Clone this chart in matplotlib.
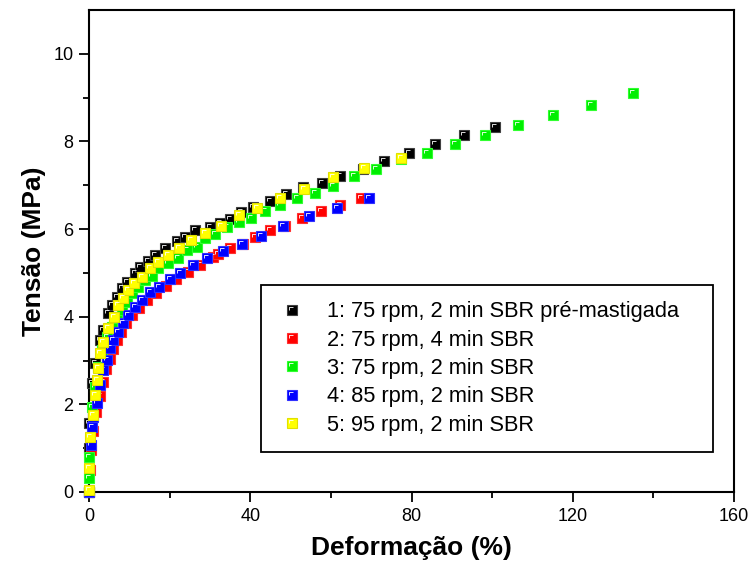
import matplotlib
matplotlib.use("Agg")
import matplotlib.pyplot as plt
from matplotlib.path import Path
from matplotlib.legend_handler import HandlerTuple

plt.rcParams["font.family"] = ["Liberation Sans", "DejaVu Sans"]

# --------------------
# data (strain %, stress MPa)
# --------------------

x1 = [0, 0.1, 0, 0.7, 1.5, 2.7, 3.5, 4.7, 5.7, 6.9, 8.2, 9.4, 11.4, 12.7, 14.6, 16.4,
      18.9, 21.8, 23.8, 26.3, 30.0, 32.5, 35.0, 37.7, 40.7, 44.9, 48.9, 53.1, 57.8,
      62.3, 68.0, 73.2, 79.4, 85.8, 93.0, 100.7]
y1 = [0, 1.0, 1.57, 2.48, 2.94, 3.46, 3.69, 4.08, 4.26, 4.44, 4.65, 4.79, 4.99, 5.13,
      5.28, 5.40, 5.56, 5.72, 5.83, 5.97, 6.04, 6.13, 6.24, 6.40, 6.51, 6.63, 6.81,
      6.95, 7.06, 7.22, 7.38, 7.56, 7.74, 7.93, 8.15, 8.34]

x2 = [0, 0.2, 0.5, 1.0, 1.8, 2.6, 3.4, 4.2, 5.1, 6.0, 6.9, 8.0, 9.2, 10.6, 12.3,
      14.3, 16.5, 19.0, 21.5, 24.5, 27.5, 30.8, 32.0, 35.0, 38.2, 41.2, 44.9, 48.6,
      52.8, 57.6, 62.3, 67.5]
y2 = [0, 0.5, 0.95, 1.40, 1.82, 2.20, 2.52, 2.80, 3.04, 3.27, 3.47, 3.66, 3.85, 4.03,
      4.20, 4.38, 4.54, 4.70, 4.85, 5.02, 5.17, 5.36, 5.44, 5.56, 5.67, 5.83, 5.97,
      6.08, 6.26, 6.42, 6.56, 6.70]

x3 = [0, 0, 0, 0.7, 1.5, 2.2, 3.2, 4.5, 5.7, 6.9, 8.2, 9.4, 10.7, 12.2, 13.9, 15.6,
      17.1, 19.6, 22.1, 24.3, 26.8, 28.8, 31.3, 34.2, 37.2, 40.2, 43.7, 47.4, 51.6,
      56.1, 60.5, 65.7, 71.2, 77.4, 83.8, 90.8, 98.2, 106.4, 115.1, 124.5, 135.0]
y3 = [0, 0.32, 0.80, 1.94, 2.39, 2.85, 3.23, 3.53, 3.76, 3.96, 4.15, 4.33, 4.53, 4.67,
      4.83, 4.94, 5.10, 5.22, 5.35, 5.53, 5.58, 5.79, 5.88, 6.04, 6.15, 6.26, 6.42,
      6.54, 6.70, 6.83, 6.99, 7.20, 7.36, 7.59, 7.74, 7.93, 8.15, 8.38, 8.61, 8.84,
      9.11]

x4 = [0, 0.5, 0.7, 1.0, 2.0, 2.7, 3.5, 4.5, 5.2, 6.0, 7.2, 8.4, 9.7, 11.4, 13.1,
      15.1, 17.4, 20.1, 22.6, 25.8, 29.3, 33.2, 38.0, 42.7, 48.1, 54.6, 61.5, 69.5]
y4 = [0, 1.07, 1.48, 1.71, 2.03, 2.44, 2.78, 3.01, 3.28, 3.46, 3.64, 3.85, 4.05, 4.21,
      4.37, 4.56, 4.67, 4.87, 4.99, 5.17, 5.33, 5.49, 5.65, 5.85, 6.06, 6.29, 6.49,
      6.70]

x5 = [0, 0, 0.2, 1.0, 1.5, 2.0, 2.2, 2.7, 3.5, 4.7, 6.2, 7.2, 8.4, 9.7, 11.2, 13.1,
      15.1, 17.1, 19.6, 22.3, 25.3, 28.8, 32.7, 37.2, 41.7, 47.4, 53.3, 60.5, 68.2,
      77.4]
y5 = [0.04, 0.55, 1.25, 1.75, 2.21, 2.55, 2.82, 3.17, 3.42, 3.74, 3.99, 4.26, 4.42,
      4.60, 4.76, 4.90, 5.10, 5.24, 5.40, 5.56, 5.74, 5.90, 6.08, 6.31, 6.49, 6.72,
      6.92, 7.18, 7.40, 7.63]

labels = ["1: 75 rpm, 2 min SBR pré-mastigada",
          "2: 75 rpm, 4 min SBR",
          "3: 75 rpm, 2 min SBR",
          "4: 85 rpm, 2 min SBR",
          "5: 95 rpm, 2 min SBR"]
colors = ["#000000", "#ff0000", "#00ee00", "#0000ff", "#ffff00"]
edges = ["#404040", "#ff3030", "#30ff30", "#3030ff", "#e0e000"]

series = [(x1, y1), (x2, y2), (x3, y3), (x4, y4), (x5, y5)]

# small white corner highlight drawn on top of each square (Origin style)
corner = Path([(0.5, -0.5), (-0.28, -0.02), (-0.28, 0.28), (0.08, 0.28)],
              [Path.MOVETO, Path.MOVETO, Path.LINETO, Path.LINETO])

# --------------------
# plot
# --------------------

fig = plt.figure(figsize=(7.5, 5.72), dpi=100)
ax = fig.add_axes([0.1187, 0.1399, 0.86, 0.8427])

handles = []
for (xs, ys), c, ec in zip(series, colors, edges):
    sq, = ax.plot(xs, ys, ls="none", marker="s", ms=6.8, mfc=c, mec=ec,
                  mew=0.8, clip_on=False, zorder=3)
    hl, = ax.plot(xs, ys, ls="none", marker=corner, ms=6.8, mfc="none",
                  mec="white", mew=0.6, clip_on=False, zorder=3)
    handles.append((sq, hl))

ax.set_xlim(0, 160)
ax.set_ylim(0, 11)
ax.set_xticks([0, 40, 80, 120, 160])
ax.set_xticks([20, 60, 100, 140], minor=True)
ax.set_yticks([0, 2, 4, 6, 8, 10])
ax.set_yticks([1, 3, 5, 7, 9], minor=True)
ax.tick_params(which="both", direction="out", width=1.3, labelsize=13,
               top=False, right=False)
ax.tick_params(which="major", length=7.2, pad=4)
ax.tick_params(which="minor", length=4.3)
for s in ax.spines.values():
    s.set_linewidth(1.5)

ax.set_xlabel("Deformação (%)", fontsize=19, fontweight="bold", labelpad=8)
ax.set_ylabel("Tensão (MPa)", fontsize=19, fontweight="bold", labelpad=5)

leg = ax.legend(handles, labels, handler_map={tuple: HandlerTuple(ndivide=1)},
                loc="lower left", bbox_to_anchor=(0.2667, 0.083, 0.7, 0.34),
                mode="expand", fontsize=15.7, frameon=True, fancybox=False,
                edgecolor="black", framealpha=1, borderaxespad=0,
                handlelength=1.36, handletextpad=0.93, labelspacing=0.34,
                borderpad=0.74)
leg.get_frame().set_linewidth(1.3)

fig.savefig("out.png", dpi=100)
